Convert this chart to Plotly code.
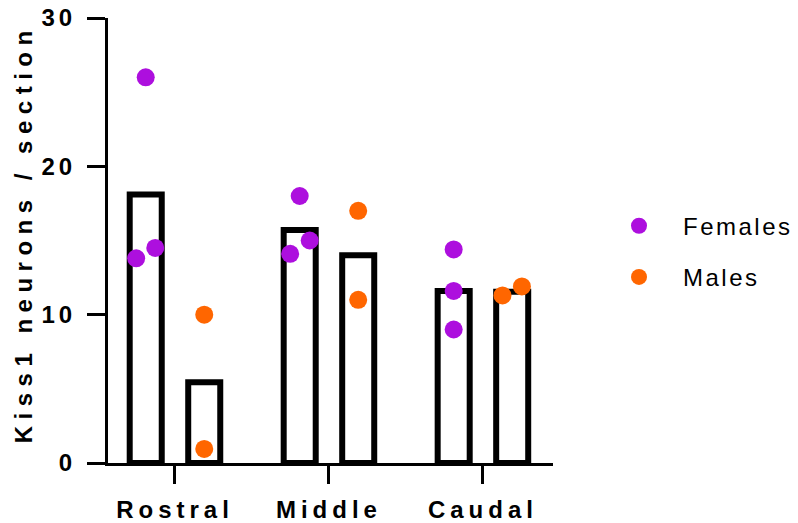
import plotly.graph_objects as go

# ---- data ----
categories = ["Rostral", "Middle", "Caudal"]
y_ticks = [0, 10, 20, 30]
y_title = "Kiss1 neurons / section"

female_means = [18.1, 15.7, 11.6]
male_means = [5.45, 14.0, 11.55]

female_rostral = [26.0, 13.8, 14.5]
female_middle = [18.0, 14.1, 15.0]
female_caudal = [14.4, 11.6, 9.0]
male_rostral = [10.0, 0.95]
male_middle = [17.0, 11.0]
male_caudal = [11.3, 11.9]

# ---- layout helpers (positions / styles) ----
bar_offset = 0.19
bar_width = 0.208
female_jitter = [[0.0, -0.062, 0.062], [0.0, -0.062, 0.065], [0.0, 0.0, 0.0]]
male_jitter = [[0.0, 0.0], [0.0, 0.0], [-0.063, 0.063]]
PURPLE = "#AD0FDE"
ORANGE = "#FF6600"
FONT = "Liberation Sans, Arial, sans-serif"


def spaced(text, px):
    return f'<span style="letter-spacing:{px}px">{text}</span>'


female_points = [female_rostral, female_middle, female_caudal]
male_points = [male_rostral, male_middle, male_caudal]
idx = list(range(len(categories)))

fig = go.Figure()

bar_style = dict(marker=dict(color="rgba(255,255,255,0)", line=dict(color="black", width=6)),
                 width=bar_width, showlegend=False, hoverinfo="skip")
fig.add_trace(go.Bar(x=[i - bar_offset for i in idx], y=female_means, **bar_style))
fig.add_trace(go.Bar(x=[i + bar_offset for i in idx], y=male_means, **bar_style))

fx, fy = [], []
for i, (pts, jit) in enumerate(zip(female_points, female_jitter)):
    for v, j in zip(pts, jit):
        fx.append(i - bar_offset + j)
        fy.append(v)
mx, my = [], []
for i, (pts, jit) in enumerate(zip(male_points, male_jitter)):
    for v, j in zip(pts, jit):
        mx.append(i + bar_offset + j)
        my.append(v)

fig.add_trace(go.Scatter(x=fx, y=fy, mode="markers", name=spaced("Females", 2.5),
                         legendgroup="f",
                         marker=dict(color=PURPLE, size=18, line=dict(width=0))))
fig.add_trace(go.Scatter(x=mx, y=my, mode="markers", name=spaced("Males", 2.5),
                         legendgroup="m",
                         marker=dict(color=ORANGE, size=18, line=dict(width=0))))

fig.add_annotation(text=spaced(y_title, 6.5), textangle=-90,
                   xref="paper", yref="paper", x=0, y=0.514,
                   xanchor="center", yanchor="middle", xshift=-85, showarrow=False,
                   font=dict(family=FONT, size=24, color="black", weight="bold"))

fig.update_layout(
    width=798, height=523,
    margin=dict(l=108, r=245, t=18, b=60, autoexpand=False),
    plot_bgcolor="white", paper_bgcolor="white",
    barmode="overlay",
    font=dict(family=FONT, color="black"),
    xaxis=dict(range=[-0.435, 2.455], tickvals=idx,
               ticktext=[spaced(c, 5) for c in categories],
               showline=True, linecolor="black", linewidth=3,
               ticks="outside", ticklen=18, tickwidth=3, tickcolor="black",
               showgrid=False, zeroline=False, automargin=False,
               ticklabelstandoff=5, ticklabeloverflow="allow",
               tickfont=dict(family=FONT, size=24, color="black", weight="bold")),
    yaxis=dict(range=[0, 30], tickvals=y_ticks,
               ticktext=[spaced(str(t), 4) for t in y_ticks],
               showline=True, linecolor="black", linewidth=3,
               ticks="outside", ticklen=18, tickwidth=3, tickcolor="black",
               showgrid=False, zeroline=False, automargin=False,
               ticklabelstandoff=6, ticklabeloverflow="allow",
               tickfont=dict(family=FONT, size=24, color="black", weight="bold")),
    legend=dict(x=1.0944, y=0.475, xanchor="left", yanchor="middle",
                font=dict(family=FONT, size=24, color="black"),
                tracegroupgap=17, itemwidth=78, bgcolor="rgba(0,0,0,0)"),
)

fig.write_html("out.html", config={"displayModeBar": False},
               post_script="document.body.style.margin='0px';document.body.style.overflow='hidden';")
